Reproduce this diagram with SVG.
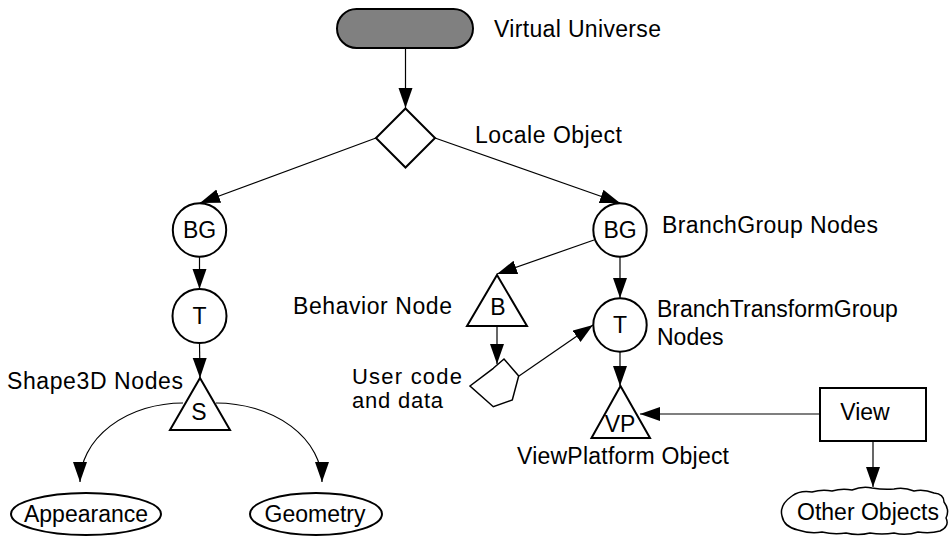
<svg xmlns="http://www.w3.org/2000/svg" width="951" height="536" viewBox="0 0 951 536">
<style>
.n{fill:#fff;stroke:#000;stroke-width:2}
.c{fill:none;stroke:#000;stroke-width:1.2}
text{font-family:"Liberation Sans",Arial,Helvetica,sans-serif;font-size:23px;fill:#000}
.m{text-anchor:middle}
.s{font-size:22px}
</style>
<defs>
<marker id="ah" markerUnits="userSpaceOnUse" markerWidth="22" markerHeight="16" refX="20" refY="7" orient="auto">
<path d="M0,0 L20,7 L0,14 Z" fill="#000"/>
</marker>
</defs>
<rect width="951" height="536" fill="#fff"/>
<g id="connectors" class="c" marker-end="url(#ah)">
<line x1="405.5" y1="48" x2="405.5" y2="108"/>
<line x1="376" y1="138" x2="200" y2="203"/>
<line x1="435" y1="138" x2="620" y2="203"/>
<line x1="199.5" y1="257" x2="199.5" y2="289"/>
<line x1="199.5" y1="343" x2="200" y2="378"/>
<path d="M183,403 A103,79 0 0,0 80,482"/>
<path d="M216,403 A106,79 0 0,1 322,482"/>
<line x1="594" y1="240" x2="497" y2="274"/>
<line x1="620" y1="257" x2="620" y2="298"/>
<line x1="497" y1="326" x2="497" y2="364"/>
<line x1="519" y1="376" x2="593" y2="325"/>
<line x1="620" y1="352" x2="620" y2="386"/>
<line x1="820" y1="414" x2="640" y2="414"/>
<line x1="873" y1="441" x2="873" y2="487"/>
</g>
<g id="virtual-universe">
<rect class="n" x="337" y="9" width="136" height="39" rx="19.5" style="fill:#808080"/>
<text x="494" y="37" textLength="167" lengthAdjust="spacing">Virtual Universe</text>
</g>
<g id="locale">
<polygon class="n" points="405.5,108.5 435,138 405.5,167.5 376,138"/>
<text x="475" y="143" textLength="147" lengthAdjust="spacing">Locale Object</text>
</g>
<g id="bg-left">
<circle class="n" cx="199.5" cy="230" r="26.7"/>
<text class="m" x="199.5" y="238">BG</text>
</g>
<g id="t-left">
<circle class="n" cx="199.5" cy="316" r="27"/>
<text class="m" x="199.5" y="324">T</text>
</g>
<g id="shape3d">
<polygon class="n" points="200,378 230,430 170,430"/>
<text class="m" x="199" y="420">S</text>
<text x="7" y="389" textLength="176" lengthAdjust="spacing">Shape3D Nodes</text>
</g>
<g id="appearance">
<ellipse class="n" cx="86" cy="514" rx="75" ry="21"/>
<text class="m" x="86" y="522">Appearance</text>
</g>
<g id="geometry">
<ellipse class="n" cx="316" cy="514" rx="66" ry="21"/>
<text class="m" x="315" y="522">Geometry</text>
</g>
<g id="bg-right">
<circle class="n" cx="620" cy="230" r="26.7"/>
<text class="m" x="620" y="238">BG</text>
<text x="662" y="233" textLength="216" lengthAdjust="spacing">BranchGroup Nodes</text>
</g>
<g id="behavior">
<polygon class="n" points="497,275 527,326 467,326"/>
<text class="m" x="498" y="315">B</text>
<text x="293" y="314" textLength="159" lengthAdjust="spacing">Behavior Node</text>
</g>
<g id="user-code">
<polygon class="n" style="stroke-width:1.5" points="493.3,368.3 504,359 518.7,376 512.3,400 493.3,406.7 470,386"/>
<text class="s" x="352" y="384" textLength="110" lengthAdjust="spacing">User code</text>
<text class="s" x="352" y="408" textLength="91" lengthAdjust="spacing">and data</text>
</g>
<g id="t-right">
<circle class="n" cx="620" cy="325" r="26.7"/>
<text class="m" x="620" y="333">T</text>
<text x="657" y="317">BranchTransformGroup</text>
<text x="657" y="345">Nodes</text>
</g>
<g id="viewplatform">
<polygon class="n" points="620.5,386 650,438 591.5,438"/>
<text class="m" x="620" y="432">VP</text>
<text x="517" y="464" textLength="212" lengthAdjust="spacing">ViewPlatform Object</text>
</g>
<g id="view">
<rect class="n" x="820" y="388" width="106" height="53"/>
<text class="m" x="865" y="420">View</text>
</g>
<g id="other-objects">
<path class="n" style="stroke-width:1.5" d="M792,496 Q800,490 812,492 Q822,489 832,491 Q842,488 852,490 Q862,486 872,488 Q884,490 894,489 Q904,487 914,491 Q924,489 934,493 Q944,494 944,502 Q950,510 946,518 Q950,526 940,531 Q930,534 918,532 Q906,536 894,533 Q882,535 870,533 Q858,536 846,533 Q834,535 822,532 Q810,534 798,530 Q784,527 782,516 Q779,505 792,496 Z"/>
<text class="m" x="868" y="520">Other Objects</text>
</g>
</svg>
